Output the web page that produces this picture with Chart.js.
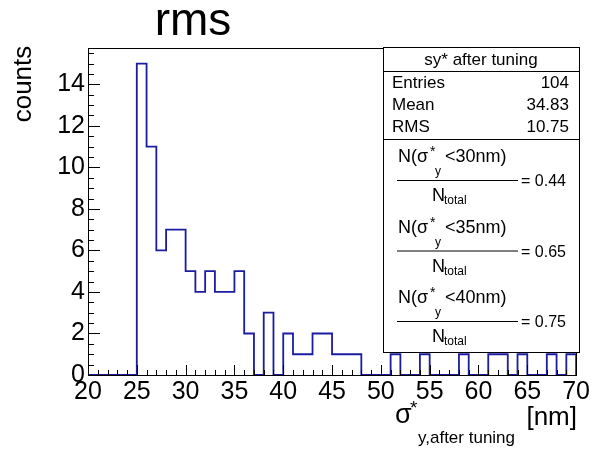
<!DOCTYPE html>
<html>
<head>
<meta charset="utf-8">
<script src="https://cdn.jsdelivr.net/npm/chart.js@4/dist/chart.umd.min.js"></script>
<style>
  html, body { margin: 0; padding: 0; background: #fff; }
  #wrap { width: 592px; height: 449px; position: relative; }
</style>
</head>
<body>
<div id="wrap"><canvas id="c" width="592" height="449"></canvas></div>
<script>
// Histogram of sigma*_y after tuning, 1 nm bins from 20 to 70 nm
const xMin = 20;
const xMax = 70;
const binWidth = 1;
const binCounts = [
  0, 0, 0, 0, 0,            // 20-24
  15, 11, 6, 7, 7,          // 25-29
  5, 4, 5, 4, 4,            // 30-34
  5, 2, 0, 3, 0,            // 35-39
  2, 1, 1, 2, 2,            // 40-44
  1, 1, 1, 0, 0,            // 45-49
  0, 1, 0, 0, 1,            // 50-54
  0, 0, 0, 1, 0,            // 55-59
  0, 1, 1, 0, 1,            // 60-64
  0, 0, 1, 0, 1             // 65-69
];
const yMax = 15.75;
const xTickValues = [20, 25, 30, 35, 40, 45, 50, 55, 60, 65, 70];
const yTickValues = [0, 2, 4, 6, 8, 10, 12, 14];

// Statistics box contents
const statsTitle = "sy* after tuning";
const statsLabels = ["Entries", "Mean", "RMS"];
const statsValues = ["104", "34.83", "10.75"];
const fractionCuts = ["30", "35", "40"];
const fractionValues = ["0.44", "0.65", "0.75"];

const FONT = '"Liberation Sans", Arial, Helvetica, sans-serif';
const LINE_COLOR = '#1c1ca0';

// step outline: each bin's left edge with its count, closed at the upper edge
const histPoints = binCounts.map((v, i) => ({ x: xMin + i * binWidth, y: v }));
histPoints.push({ x: xMax, y: binCounts[binCounts.length - 1] });
histPoints.push({ x: xMax, y: 0 });

const decorations = {
  id: 'decorations',
  afterDatasetsDraw(chart) {
    const ctx = chart.ctx;
    const a = chart.chartArea;
    const xs = chart.scales.x, ys = chart.scales.y;
    ctx.save();
    ctx.strokeStyle = '#000';
    ctx.lineWidth = 1;

    // frame
    ctx.strokeRect(Math.round(a.left) + 0.5, Math.round(a.top) + 0.5,
                   Math.round(a.right - a.left), Math.round(a.bottom - a.top));

    // x ticks (inside, pointing up)
    ctx.beginPath();
    for (let v = xMin; v <= xMax; v += 1) {
      const px = Math.round(xs.getPixelForValue(v)) + 0.5;
      const len = (v % 5 === 0) ? 10 : 5;
      ctx.moveTo(px, a.bottom);
      ctx.lineTo(px, a.bottom - len);
    }
    // y ticks (inside, pointing right)
    for (let v = 0; v <= yMax; v += 0.5) {
      const py = Math.round(ys.getPixelForValue(v)) + 0.5;
      const len = (v % 2 === 0) ? 12 : 6;
      ctx.moveTo(a.left, py);
      ctx.lineTo(a.left + len, py);
    }
    ctx.stroke();

    // title
    ctx.fillStyle = '#000';
    ctx.textAlign = 'center';
    ctx.textBaseline = 'alphabetic';
    ctx.font = '46px ' + FONT;
    ctx.fillText('rms', 193, 35);

    // y axis title
    ctx.save();
    ctx.translate(31, 84);
    ctx.rotate(-Math.PI / 2);
    ctx.font = '26px ' + FONT;
    ctx.fillText('counts', 0, 0);
    ctx.restore();

    // x axis title: sigma*_{y,after tuning} [nm]
    ctx.textAlign = 'left';
    ctx.font = '27px ' + FONT;
    ctx.fillText('\u03c3', 395, 423);
    ctx.font = '19px ' + FONT;
    ctx.fillText('*', 410, 414);
    ctx.font = '17px ' + FONT;
    ctx.fillText('y,after tuning', 418, 443);
    ctx.font = '26px ' + FONT;
    ctx.textAlign = 'right';
    ctx.fillText('[nm]', 577, 425);

    // statistics box
    const bx = 383, by = 47, bw = 196, bh = 305;
    ctx.fillStyle = '#fff';
    ctx.fillRect(bx, by, bw, bh);
    ctx.strokeRect(bx + 0.5, by + 0.5, bw, bh);
    ctx.beginPath();
    ctx.moveTo(bx, 71.5); ctx.lineTo(bx + bw, 71.5);
    ctx.moveTo(bx, 139.5); ctx.lineTo(bx + bw, 139.5);
    ctx.stroke();

    ctx.fillStyle = '#000';
    ctx.textAlign = 'center';
    ctx.font = '17px ' + FONT;
    ctx.fillText(statsTitle, 481, 65);

    ctx.font = '17px ' + FONT;
    statsLabels.forEach((lab, i) => {
      const yb = 88 + i * 22;
      ctx.textAlign = 'left';
      ctx.fillText(lab, 392, yb);
      ctx.textAlign = 'right';
      ctx.fillText(statsValues[i], 569, yb);
    });

    // fraction blocks
    fractionCuts.forEach((cut, k) => {
      const dy = k * 70.5;
      const nb = 162 + dy;
      ctx.textAlign = 'left';
      ctx.font = '18px ' + FONT;
      ctx.fillText('N(\u03c3', 398, nb);
      ctx.font = '14px ' + FONT;
      ctx.fillText('*', 430, nb - 6);
      ctx.font = '12px ' + FONT;
      ctx.fillText('y', 435, nb + 13);
      ctx.font = '18px ' + FONT;
      ctx.fillText('<' + cut + 'nm)', 445, nb);

      ctx.beginPath();
      ctx.moveTo(397, 180.5 + dy);
      ctx.lineTo(518, 180.5 + dy);
      ctx.stroke();

      ctx.font = '16px ' + FONT;
      ctx.fillText('= ' + fractionValues[k], 521, 186 + dy);
      ctx.font = '18px ' + FONT;
      ctx.fillText('N', 432, 201 + dy);
      ctx.font = '12px ' + FONT;
      ctx.fillText('total', 444, 204 + dy);
    });

    ctx.restore();
  }
};

new Chart(document.getElementById('c'), {
  type: 'line',
  data: {
    datasets: [{
      data: histPoints,
      stepped: 'before',
      borderColor: LINE_COLOR,
      borderWidth: 1.8,
      pointRadius: 0,
      fill: false,
      clip: 4
    }]
  },
  options: {
    responsive: false,
    animation: false,
    events: [],
    layout: { padding: { left: 0, right: 14, top: 48, bottom: 0 } },
    plugins: { legend: { display: false }, tooltip: { enabled: false }, title: { display: false } },
    scales: {
      x: {
        type: 'linear',
        min: xMin, max: xMax,
        grid: { display: false, drawTicks: false },
        border: { display: false },
        afterBuildTicks: s => { s.ticks = xTickValues.map(v => ({ value: v })); },
        afterFit: s => { s.height = 74; },
        ticks: {
          color: '#000',
          font: { family: FONT, size: 25 },
          padding: 2,
          maxRotation: 0,
          autoSkip: false
        }
      },
      y: {
        type: 'linear',
        min: 0, max: yMax,
        grid: { display: false, drawTicks: false },
        border: { display: false },
        afterBuildTicks: s => { s.ticks = yTickValues.map(v => ({ value: v })); },
        afterFit: s => { s.width = 88; },
        ticks: {
          color: '#000',
          font: { family: FONT, size: 25 },
          padding: 3,
          autoSkip: false
        }
      }
    }
  },
  plugins: [decorations]
});
</script>
</body>
</html>
